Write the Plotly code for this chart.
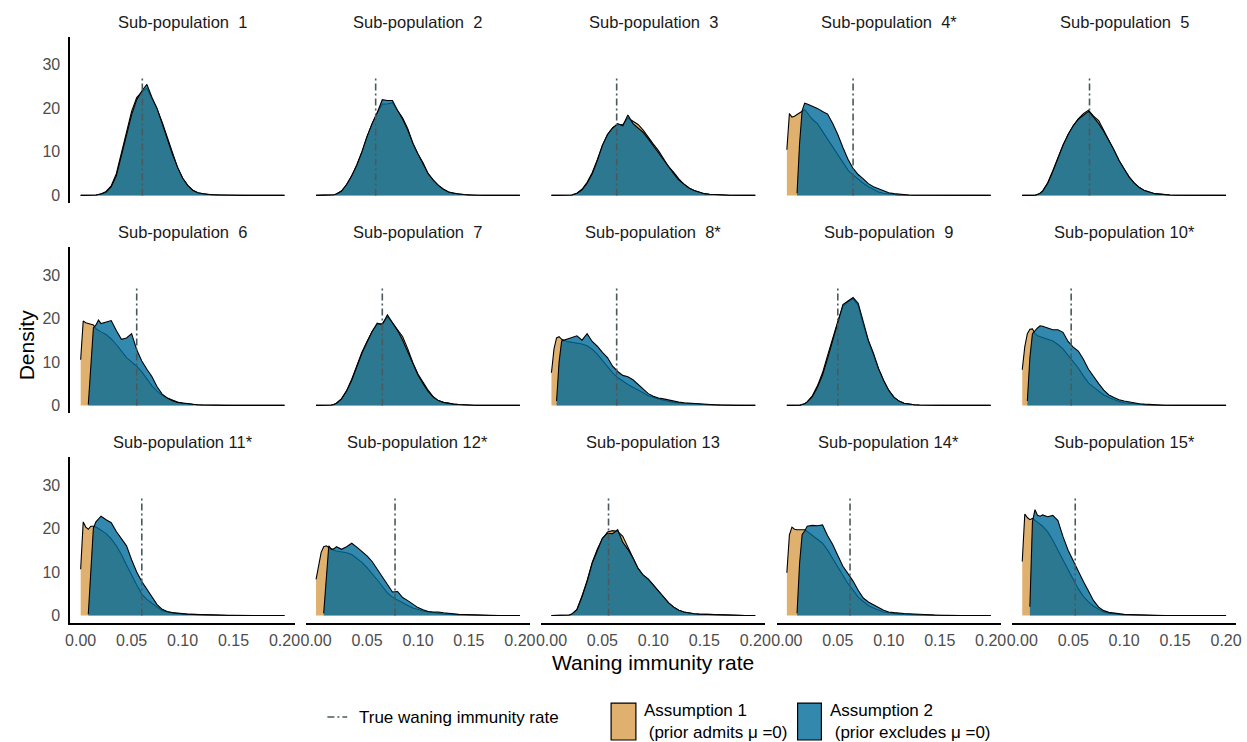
import plotly.graph_objects as go

# ---------------- data ----------------
X = [0, 0.0025, 0.005, 0.0075, 0.01, 0.0125, 0.015, 0.0175, 0.02,
     0.025, 0.03, 0.035, 0.04, 0.045, 0.05, 0.055, 0.06, 0.065, 0.07, 0.075,
     0.08, 0.085, 0.09, 0.095, 0.1,
     0.105, 0.11, 0.115, 0.12, 0.125, 0.13, 0.135, 0.14, 0.145, 0.15,
     0.155, 0.16, 0.165, 0.17, 0.175, 0.18, 0.185, 0.19, 0.195, 0.2]
N = None

a1_p01 = [0, 0, 0, 0, 0, 0.05, 0.1, 0.2, 0.35,
          0.9, 2.2, 5, 9.8, 14.5, 19.3, 22.5, 23.8, 24.6, 22.3, 19.8, 16.8, 13.2, 9.6, 6.5, 4,
          2.3, 1.2, 0.6, 0.35, 0.2, 0.15, 0.1, 0.1, 0.05, 0.05, 0.05, 0, 0, 0, 0, 0, 0, 0, 0, 0]
a2_p01 = [0, 0, 0, 0, 0, 0.05, 0.1, 0.2, 0.3,
          0.8, 2, 4.5, 9, 13.5, 18.5, 22, 24, 25.5, 22.5, 20, 16.5, 12.8, 9.5, 6.5, 4,
          2.3, 1.2, 0.6, 0.35, 0.2, 0.15, 0.1, 0.1, 0.05, 0.05, 0.05, 0, 0, 0, 0, 0, 0, 0, 0, 0]
a1_p02 = [0, 0, 0, 0, 0, 0.05, 0.1, 0.15, 0.3,
          1, 2.5, 4.5, 7, 10, 13.5, 16.5, 19, 21, 21, 21.3, 19.5, 17.8, 15.3, 12, 9.5,
          7.5, 5, 3.5, 2.3, 1.4, 0.8, 0.5, 0.3, 0.2, 0.1, 0.05, 0.05, 0, 0, 0, 0, 0, 0, 0, 0]
a2_p02 = [0, 0, 0, 0, 0, 0.05, 0.1, 0.15, 0.3,
          1, 2.5, 4.5, 7, 10, 13.5, 16.5, 19, 22, 21.8, 21.8, 19.5, 17.5, 15, 12, 9.5,
          7.3, 5, 3.5, 2.3, 1.4, 0.8, 0.5, 0.3, 0.2, 0.1, 0.05, 0.05, 0, 0, 0, 0, 0, 0, 0, 0]
a1_p03 = [0, 0, 0, 0, 0, 0, 0, 0.05, 0.1,
          0.5, 1.4, 3, 5.2, 8.2, 11.5, 14, 15.5, 16.3, 16.2, 17.8, 17, 16.3, 15, 13.3, 11.8,
          10.3, 8.3, 6.6, 5.3, 3.8, 2.6, 1.7, 1.1, 0.7, 0.4, 0.25, 0.15, 0.1, 0.1, 0.05, 0.05, 0, 0, 0, 0]
a2_p03 = [0, 0, 0, 0, 0, 0, 0, 0.05, 0.1,
          0.5, 1.3, 2.8, 5, 8, 11.5, 14, 15.5, 16.5, 16, 18.5, 16.5, 15.5, 14.5, 13, 11.5,
          9.8, 8.2, 6.5, 5, 3.5, 2.5, 1.7, 1.1, 0.7, 0.4, 0.25, 0.15, 0.1, 0.1, 0.05, 0.05, 0, 0, 0, 0]
a1_p04 = [10.5, 18.8, 18, 18.2, 18.6, 19, 19.5, 19.7, 19,
          17.5, 16.5, 14.7, 12.8, 11, 9.2, 7.5, 5.8, 4.7, 3.7, 2.8, 2, 1.3, 0.8, 0.5, 0.3,
          0.2, 0.1, 0.1, 0.05, 0.05, 0, 0, 0, 0, 0, 0, 0, 0, 0, 0, 0, 0, 0, 0, 0]
a2_p04 = [N, N, N, N, 0.5, 12, 19.5, 21.2, 21,
          20.5, 20, 19.3, 18.7, 16.5, 14, 11, 8.3, 6.2, 4.8, 3.8, 2.7, 2, 1.5, 1, 0.6,
          0.4, 0.25, 0.15, 0.1, 0.05, 0.05, 0, 0, 0, 0, 0, 0, 0, 0, 0, 0, 0, 0, 0, 0]
a1_p05 = [0, 0, 0, 0, 0, 0.05, 0.2, 0.5, 1,
          2.9, 5.7, 8.7, 11.6, 14, 16, 17.6, 18.8, 19.6, 18.2, 17.2, 14.8, 12.7, 10.4, 8, 6,
          4.2, 2.8, 1.8, 1.1, 0.7, 0.4, 0.3, 0.15, 0.1, 0.05, 0.05, 0, 0, 0, 0, 0, 0, 0, 0, 0]
a2_p05 = [0, 0, 0, 0, 0, 0.05, 0.2, 0.5, 1,
          2.8, 5.5, 8.5, 11.5, 14, 16, 17.5, 18.5, 19.3, 18, 16.5, 14.7, 12.7, 10.5, 8, 6,
          4.2, 2.8, 1.8, 1.1, 0.7, 0.4, 0.3, 0.15, 0.1, 0.05, 0.05, 0, 0, 0, 0, 0, 0, 0, 0, 0]
a1_p06 = [10.5, 19.4, 19, 18.8, 18.7, 18.5, 17.6, 17.2, 16.9,
          16.3, 15.3, 14, 12.4, 11, 10, 9, 7.7, 6, 4.5, 3.3, 2.3, 1.7, 1.2, 0.8, 0.5,
          0.35, 0.25, 0.15, 0.1, 0.05, 0.05, 0, 0, 0, 0, 0, 0, 0, 0, 0, 0, 0, 0, 0, 0]
a2_p06 = [N, N, N, 0.2, 9, 17.8, 18.5, 19.6, 18.8,
          19.2, 19.5, 17.2, 15.2, 15.5, 16.5, 12.8, 10.2, 8.3, 6.6, 4.3, 2.6, 1.7, 1.1, 0.7, 0.5,
          0.35, 0.25, 0.15, 0.1, 0.05, 0.05, 0, 0, 0, 0, 0, 0, 0, 0, 0, 0, 0, 0, 0, 0]
a1_p07 = [0, 0, 0, 0, 0, 0.05, 0.1, 0.2, 0.5,
          1.5, 3.4, 6, 9.2, 12.2, 14.7, 17, 18.6, 18.8, 20.3, 19, 17.4, 15.8, 13, 9.8, 7.2,
          5.2, 3.5, 2, 1.1, 0.7, 0.45, 0.3, 0.2, 0.1, 0.05, 0.05, 0, 0, 0, 0, 0, 0, 0, 0, 0]
a2_p07 = [0, 0, 0, 0, 0, 0.05, 0.1, 0.2, 0.5,
          1.5, 3.3, 5.8, 9, 12, 14.5, 17, 18.9, 18.6, 20.8, 19, 17.2, 15, 12.3, 9.5, 7,
          5, 3.2, 1.9, 1.1, 0.7, 0.45, 0.3, 0.2, 0.1, 0.05, 0.05, 0, 0, 0, 0, 0, 0, 0, 0, 0]
a1_p08 = [7.5, 13, 15.5, 15.8, 15.2, 14.9, 14.7, 14.6, 14.5,
          14.3, 14.1, 13.7, 12.9, 11.8, 10.3, 9, 7.5, 6.4, 5.5, 4.8, 4.2, 3.6, 2.9, 2.2, 1.8,
          1.5, 1.2, 0.9, 0.7, 0.55, 0.45, 0.35, 0.3, 0.25, 0.2, 0.15, 0.1, 0.1, 0.05, 0.05, 0.05, 0, 0, 0, 0]
a2_p08 = [N, N, 1, 10, 14.8, 15, 15.2, 15.4, 15.5,
          16, 15, 16.5, 14.7, 13.6, 12.2, 11, 9, 7.8, 6.9, 6.6, 5.9, 4.9, 3.7, 2.7, 2.1,
          1.7, 1.5, 1.2, 0.9, 0.75, 0.6, 0.5, 0.4, 0.3, 0.25, 0.2, 0.15, 0.1, 0.05, 0.05, 0.05, 0, 0, 0, 0]
a1_p09 = [0, 0, 0, 0, 0, 0.05, 0.2, 0.4, 0.8,
          2.2, 4.5, 7.5, 11.5, 15.5, 19.3, 22.8, 23.8, 24.5, 23, 18.5, 14.7, 11.6, 8.3, 5.6, 3.4,
          1.9, 1, 0.5, 0.3, 0.15, 0.1, 0.05, 0, 0, 0, 0, 0, 0, 0, 0, 0, 0, 0, 0, 0]
a2_p09 = [0, 0, 0, 0, 0, 0.05, 0.2, 0.4, 0.8,
          2, 4.2, 7, 10.8, 14.8, 18.7, 23.2, 24, 24.8, 23.5, 19, 15, 12, 8.5, 5.8, 3.5,
          1.9, 1, 0.5, 0.3, 0.15, 0.1, 0.05, 0, 0, 0, 0, 0, 0, 0, 0, 0, 0, 0, 0, 0]
a1_p10 = [8.2, 13.5, 16.5, 17.5, 17.6, 16.5, 16, 15.8, 15.6,
          15.2, 14.8, 14, 13, 11.5, 10, 8.6, 6.8, 5.2, 4.2, 3.3, 2.4, 1.8, 1.3, 0.9, 0.6,
          0.45, 0.3, 0.2, 0.15, 0.1, 0.05, 0.05, 0.05, 0, 0, 0, 0, 0, 0, 0, 0, 0, 0, 0, 0]
a2_p10 = [N, N, 1, 11, 16.5, 17.2, 17.8, 18.3, 18.2,
          17.8, 17.4, 17.4, 16.8, 14.7, 13.4, 12.5, 10.6, 8.3, 6.5, 5, 3.5, 2.4, 1.8, 1.3, 1,
          0.75, 0.55, 0.4, 0.3, 0.2, 0.15, 0.1, 0.05, 0.05, 0.05, 0, 0, 0, 0, 0, 0, 0, 0, 0, 0]
a1_p11 = [10.6, 21.5, 20.3, 19.8, 20.5, 20.5, 20.3, 20, 19.6,
          18.8, 17.6, 16, 14, 11.6, 9.2, 7, 4.9, 3.7, 2.8, 1.9, 1.1, 0.8, 0.55, 0.4, 0.3,
          0.25, 0.2, 0.15, 0.1, 0.05, 0.05, 0.05, 0.05, 0, 0, 0, 0, 0, 0, 0, 0, 0, 0, 0, 0]
a2_p11 = [N, N, N, 0.3, 10, 20.1, 21.5, 22.2, 22.8,
          22, 21.3, 19.3, 17.6, 16, 12.8, 10, 7.8, 6, 4.1, 2.5, 1.4, 0.9, 0.65, 0.5, 0.4,
          0.3, 0.25, 0.2, 0.15, 0.1, 0.05, 0.05, 0.05, 0.05, 0.05, 0, 0, 0, 0, 0, 0, 0, 0, 0, 0]
a1_p12 = [8.3, 11, 14.5, 15.8, 16, 15.6, 15.2, 15, 14.8,
          14.6, 14.4, 14, 13.1, 12.2, 11, 9.7, 8.2, 6.7, 5.2, 4.2, 3.5, 3, 2.3, 1.7, 1.3,
          1, 0.8, 0.6, 0.45, 0.35, 0.25, 0.2, 0.15, 0.1, 0.05, 0.05, 0.05, 0.05, 0, 0, 0, 0, 0, 0, 0]
a2_p12 = [N, N, N, 0.5, 9, 16, 15.2, 15.3, 15.8,
          15.2, 15.8, 16.6, 15.7, 14.8, 13.7, 12.4, 10.6, 9.1, 7.2, 5.4, 5.5, 4.1, 3.4, 2.6, 1.8,
          1.3, 0.9, 0.8, 0.8, 0.6, 0.45, 0.35, 0.25, 0.2, 0.15, 0.1, 0.05, 0.05, 0.05, 0, 0, 0, 0, 0, 0]
a1_p13 = [0, 0, 0, 0, 0, 0, 0, 0.1, 0.3,
          1.4, 4.5, 8, 12.2, 15.2, 17.6, 19.2, 19.5, 19.3, 18.2, 15.8, 13.2, 10.8, 9.2, 8.2, 6.9,
          5.6, 4.1, 2.9, 1.9, 1.2, 0.8, 0.55, 0.4, 0.3, 0.25, 0.2, 0.15, 0.1, 0.05, 0.05, 0.05, 0, 0, 0, 0]
a2_p13 = [0, 0, 0, 0, 0, 0, 0, 0.1, 0.3,
          1.3, 4.3, 7.8, 12, 15, 17.8, 18.9, 18.8, 19.7, 16.8, 15.2, 13.2, 10.8, 9.3, 8.4, 7,
          5.6, 4.1, 2.9, 1.9, 1.2, 0.8, 0.55, 0.4, 0.3, 0.25, 0.2, 0.15, 0.1, 0.05, 0.05, 0.05, 0, 0, 0, 0]
a1_p14 = [9.8, 18.5, 20.3, 19.8, 19.7, 19.7, 19.8, 19.7, 19.3,
          18.4, 17.6, 16.6, 15, 13, 11, 9.2, 7.3, 5.8, 4.2, 3.2, 2.3, 1.7, 1.2, 0.8, 0.6,
          0.4, 0.3, 0.25, 0.2, 0.15, 0.1, 0.05, 0.05, 0.05, 0, 0, 0, 0, 0, 0, 0, 0, 0, 0, 0]
a2_p14 = [N, N, N, N, 0.5, 12, 18.6, 19.4, 20.5,
          20.7, 20.6, 20.8, 18.3, 16.3, 13.8, 11.3, 9.6, 7.9, 5.8, 4, 3.1, 2.4, 1.8, 1.2, 0.8,
          0.65, 0.5, 0.45, 0.4, 0.3, 0.25, 0.2, 0.15, 0.1, 0.05, 0.05, 0.05, 0, 0, 0, 0, 0, 0, 0, 0]
a1_p15 = [12.4, 23.3, 22.5, 22, 22.3, 21.8, 21.3, 20.9, 20.5,
          19.2, 17.3, 15, 12.7, 10.4, 8.1, 6.1, 4.4, 3.1, 2.1, 1.4, 0.8, 0.5, 0.3, 0.2, 0.15,
          0.1, 0.05, 0.05, 0, 0, 0, 0, 0, 0, 0, 0, 0, 0, 0, 0, 0, 0, 0, 0, 0]
a2_p15 = [N, N, N, 2, 21.5, 24.3, 23, 22.8, 23.1,
          22.7, 23, 21.8, 18.1, 15, 12.5, 10.3, 7.8, 5.6, 3.4, 1.9, 1.1, 0.7, 0.5, 0.35, 0.25,
          0.2, 0.15, 0.1, 0.05, 0.05, 0, 0, 0, 0, 0, 0, 0, 0, 0, 0, 0, 0, 0, 0, 0]

ASSUMPTION1 = [a1_p01, a1_p02, a1_p03, a1_p04, a1_p05, a1_p06, a1_p07, a1_p08,
               a1_p09, a1_p10, a1_p11, a1_p12, a1_p13, a1_p14, a1_p15]
ASSUMPTION2 = [a2_p01, a2_p02, a2_p03, a2_p04, a2_p05, a2_p06, a2_p07, a2_p08,
               a2_p09, a2_p10, a2_p11, a2_p12, a2_p13, a2_p14, a2_p15]
TRUE_RATE = [0.0605, 0.0585, 0.064, 0.065, 0.066, 0.055, 0.065, 0.064,
             0.050, 0.048, 0.060, 0.0775, 0.056, 0.062, 0.052]
TRUE_LINE_TOP = 27
TITLES = ["Sub-population \u00a01", "Sub-population \u00a02", "Sub-population \u00a03",
          "Sub-population \u00a04*", "Sub-population \u00a05", "Sub-population \u00a06",
          "Sub-population \u00a07", "Sub-population \u00a08*", "Sub-population \u00a09",
          "Sub-population 10*", "Sub-population 11*", "Sub-population 12*",
          "Sub-population 13", "Sub-population 14*", "Sub-population 15*"]
X_TICKS = [0, 0.05, 0.10, 0.15, 0.20]
X_TICKTEXT = ["0.00", "0.05", "0.10", "0.15", "0.20"]
Y_TICKS = [0, 10, 20, 30]

# ---------------- style ----------------
W, H = 1247, 742
FONT = "Liberation Sans, Arial, sans-serif"
COL_A1 = "rgb(224,176,110)"
COL_A2 = "rgba(0,106,154,0.8)"
COL_A2_KEY = "rgb(51,136,174)"
COL_TRUE = "#4A5A5C"
COL_W = 237.3
PANEL_W = 226
ROW_H = 210.3


def px(x):
    return x / W


def py(y):
    return 1 - y / H


fig = go.Figure()
layout = dict(width=W, height=H, margin=dict(l=0, r=0, t=0, b=0),
              paper_bgcolor="white", plot_bgcolor="white", showlegend=False,
              font=dict(family=FONT))
annotations = []

for i in range(15):
    r, c = divmod(i, 5)
    sx = "" if i == 0 else str(i + 1)
    xa, ya = "x" + sx, "y" + sx
    left = 66 + COL_W * c
    top = 37.3 + ROW_H * r
    bottom = 203.2 + ROW_H * r

    for arr, col in ((ASSUMPTION1[i], COL_A1), (ASSUMPTION2[i], COL_A2)):
        pts = [(x, y) for x, y in zip(X, arr) if y is not None]
        fig.add_trace(go.Scatter(
            x=[p[0] for p in pts], y=[p[1] for p in pts], mode="lines",
            line=dict(color="black", width=1.1), fill="tozeroy", fillcolor=col,
            xaxis=xa, yaxis=ya, hoverinfo="skip"))
    fig.add_trace(go.Scatter(
        x=[TRUE_RATE[i], TRUE_RATE[i]], y=[0, TRUE_LINE_TOP], mode="lines",
        line=dict(color=COL_TRUE, width=1.6, dash="7px,3px,2px,3px"),
        xaxis=xa, yaxis=ya, hoverinfo="skip"))

    bottom_row = (r == 2)
    first_col = (c == 0)
    layout["xaxis" + sx] = dict(
        domain=[px(left), px(left + PANEL_W)], range=[-0.01, 0.21],
        anchor=ya, tickvals=X_TICKS, ticktext=X_TICKTEXT,
        showticklabels=bottom_row, showline=bottom_row, linecolor="black", linewidth=2,
        ticks="outside" if bottom_row else "", ticklen=2, tickcolor="rgba(0,0,0,0)",
        tickfont=dict(size=16, color="#4D4D4D", family=FONT),
        showgrid=False, zeroline=False)
    layout["yaxis" + sx] = dict(
        domain=[py(bottom), py(top)], range=[-1.73, 36.35],
        anchor=xa, tickvals=Y_TICKS,
        showticklabels=first_col, showline=first_col, linecolor="black", linewidth=2,
        ticks="outside" if first_col else "", ticklen=5, tickcolor="rgba(0,0,0,0)",
        tickfont=dict(size=16, color="#4D4D4D", family=FONT),
        showgrid=False, zeroline=False)
    annotations.append(dict(
        text=TITLES[i], x=px(left + PANEL_W / 2), y=py(22 + ROW_H * r),
        xref="paper", yref="paper", xanchor="center", yanchor="middle",
        showarrow=False, font=dict(size=16.5, color="#1A1A1A", family=FONT)))

# axis titles
annotations.append(dict(text="Density", x=px(22), y=py(345), xref="paper", yref="paper",
                        textangle=-90, showarrow=False, xanchor="center", yanchor="middle",
                        font=dict(size=21, color="black", family=FONT)))
annotations.append(dict(text="Waning immunity rate", x=px(653), y=py(663), xref="paper",
                        yref="paper", showarrow=False, xanchor="center", yanchor="middle",
                        font=dict(size=21, color="black", family=FONT)))

# legend (drawn manually)
shapes = [
    dict(type="line", xref="paper", yref="paper", x0=px(325), x1=px(345), y0=py(718), y1=py(718),
         line=dict(color=COL_TRUE, width=1.6, dash="7px,3px,2px,3px")),
    dict(type="rect", xref="paper", yref="paper", x0=px(611), x1=px(636), y0=py(741), y1=py(704),
         fillcolor=COL_A1, line=dict(color="black", width=1.2)),
    dict(type="rect", xref="paper", yref="paper", x0=px(799), x1=px(823), y0=py(741), y1=py(704),
         fillcolor=COL_A2_KEY, line=dict(color="black", width=1.2)),
]
legend_font = dict(size=17, color="black", family=FONT)
annotations.append(dict(text="True waning immunity rate", x=px(355), y=py(718), xref="paper",
                        yref="paper", showarrow=False, xanchor="left", yanchor="middle",
                        font=legend_font))
annotations.append(dict(text="Assumption 1<br>\u00a0(prior admits \u03bc =0)", x=px(642), y=py(722),
                        xref="paper", yref="paper", showarrow=False, xanchor="left",
                        yanchor="middle", align="left", font=legend_font))
annotations.append(dict(text="Assumption 2<br>\u00a0(prior excludes \u03bc =0)", x=px(830), y=py(722),
                        xref="paper", yref="paper", showarrow=False, xanchor="left",
                        yanchor="middle", align="left", font=legend_font))

layout["annotations"] = annotations
layout["shapes"] = shapes
fig.update_layout(**layout)
fig.write_html("out.html")
